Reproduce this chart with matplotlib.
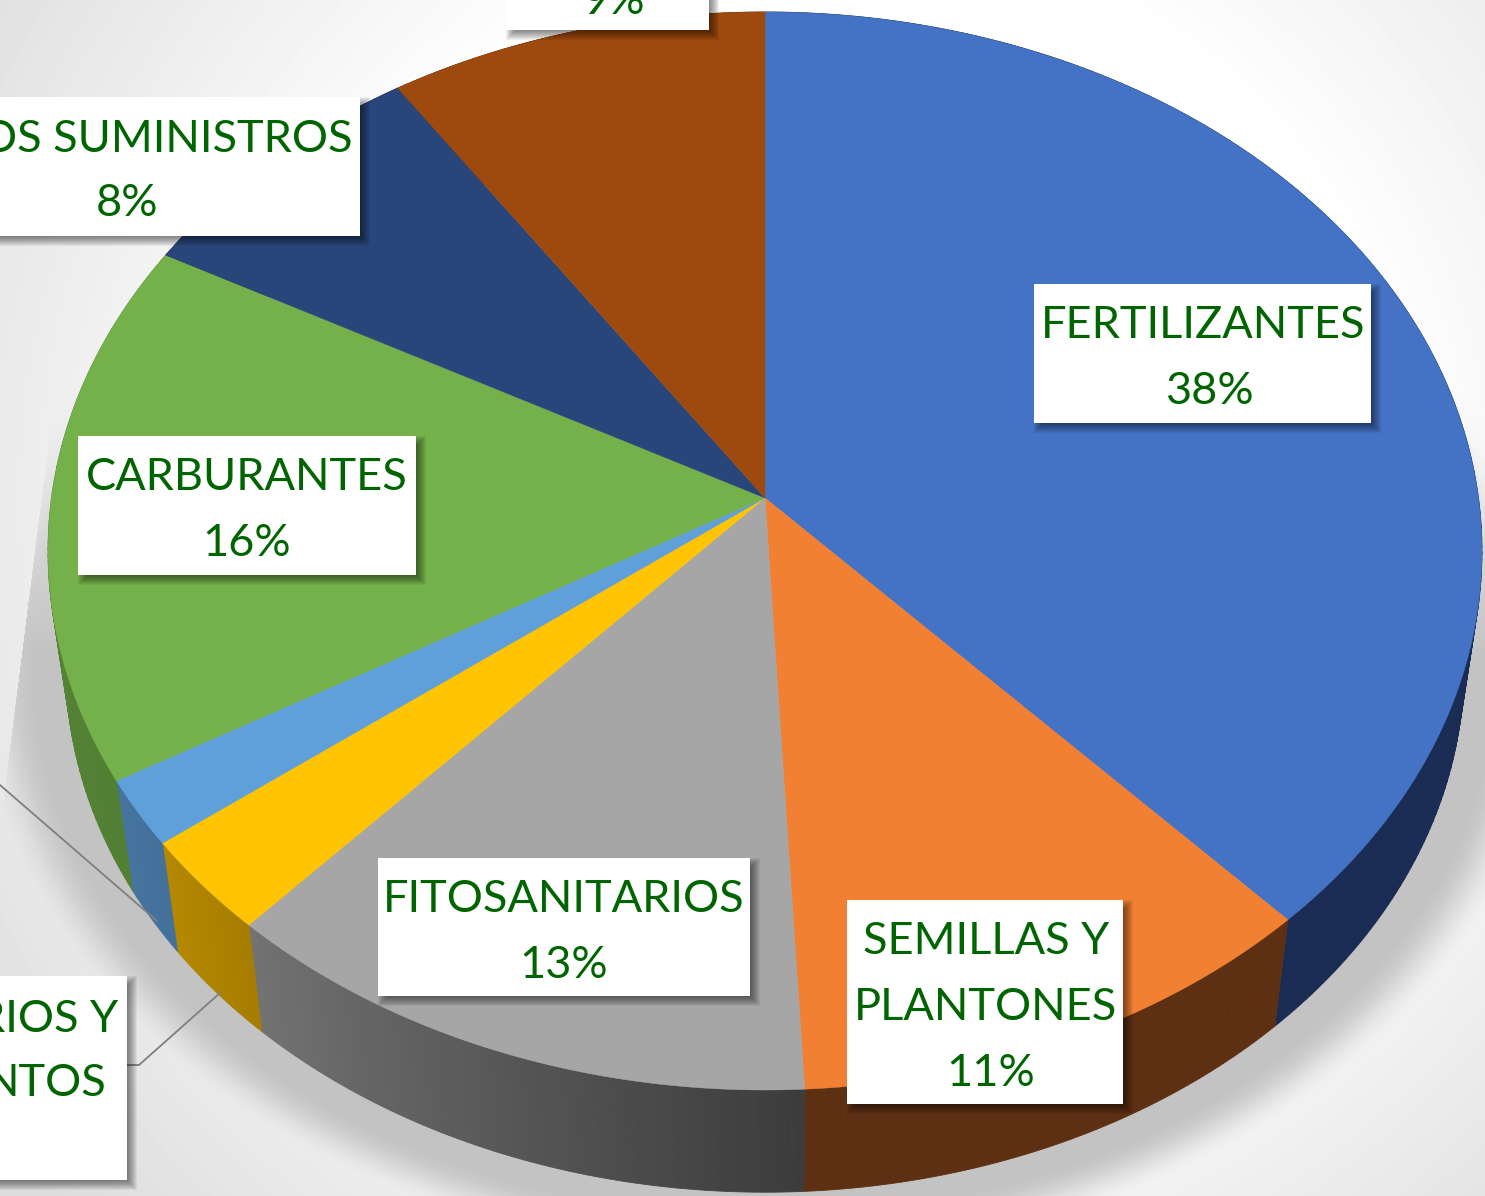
import numpy as np
import matplotlib
matplotlib.use("Agg")
import matplotlib.pyplot as plt
from matplotlib.patches import Rectangle

plt.rcParams['font.family'] = ['Lato', 'DejaVu Sans']

# Slice shares, clockwise from the top of the pie
shares = [38.1, 11.1, 12.5, 2.9, 2.0, 16.3, 7.7, 9.4]
top_colors = ["#4472C4", "#F28032", "#A6A6A6", "#FFC404", "#5F9FDA", "#75B14B", "#29467A", "#9E490D"]
wall_start = ["#1A2C54", "#5E3013", "#3C3C3C", "#A67D00", "#44709A", "#517F33", "#1A2C54", "#5E3013"]
wall_end = ["#1A2C54", "#5E3013", "#727272", "#B48800", "#44749F", "#5A8A3A", "#1A2C54", "#5E3013"]

# Label boxes: left, top, right, bottom
box_edges = [
    (1034, 284, 1371, 423),
    (847, 900, 1123, 1104),
    (378, 858, 750, 996),
    (78, 436, 416, 575),
    (-106, 97, 360, 236),
    (506, -110, 709, 30),
    (-300, 976, 127, 1180),
]
# Text: x, y, string, horizontal alignment
label_x = [1203, 1209, 986, 986, 991, 564, 564, 247, 247, 352, 127, 614, 118, 107]
label_y = [322, 387, 938, 1004, 1069, 896, 961, 474, 539, 135, 200, -3, 1015, 1080]
label_text = ["FERTILIZANTES", "38%", "SEMILLAS Y", "PLANTONES", "11%", "FITOSANITARIOS", "13%",
              "CARBURANTES", "16%", "OTROS SUMINISTROS", "8%", "9%", "RIOS Y", "NTOS"]
label_align = ["center"] * 9 + ["right", "center", "center", "right", "right"]

# Leader lines
leader_x = [[0, 157], [127, 139, 220]]
leader_y = [[785, 921], [1065, 1065, 993]]

# Perspective of the disc
CX, CY = 765, 498
A, B, K = 713.5, 533.8, 0.0983
WALL_SCALE, WALL_CY = 0.975, 615


def rim(theta):
    x, y = np.sin(theta), np.cos(theta)
    w = 1 + K * y
    return CX + A * x / w, CY - B * y / w


def lower(px, py):
    return CX + (px - CX) * WALL_SCALE, WALL_CY + (py - CY) * WALL_SCALE


fig = plt.figure(figsize=(14.85, 11.96), dpi=100)
ax = fig.add_axes([0, 0, 1, 1])
ax.set_xlim(0, 1485)
ax.set_ylim(1196, 0)
ax.axis("off")

# Background with the soft shadow under the pie
gx, gy = np.meshgrid(np.arange(1485) + 0.5, np.arange(1196) + 0.5)
dist = np.hypot(gx - 850, gy - 500)
bg = 1 - 0.115 * np.clip((dist - 550) / 430, 0, 1.2)
rn = np.hypot((gx - CX) / 699, (gy - 665) / 526)
fade = np.clip((1.135 - rn) / 0.09, 0, 1)
fade = fade * fade * (3 - 2 * fade)
ramp = np.clip((gy - 380) / 270, 0, 1)
edge = gx > 57 - (gy - 377) * 0.1264
shadow = fade * ramp * edge
bg = bg * (1 - shadow) + 0.768 * shadow
ax.imshow(bg, cmap="gray", vmin=0, vmax=1, extent=(0, 1485, 1196, 0), aspect="auto", zorder=0,
          interpolation="bilinear")

bounds = np.cumsum([0] + shares) / 100 * 2 * np.pi

# Side wall, cut in thin strips so the shading can run along it
for i in range(len(shares)):
    t = np.linspace(bounds[i], bounds[i + 1], max(int(shares[i] * 5), 6))
    c0 = np.array(matplotlib.colors.to_rgb(wall_start[i]))
    c1 = np.array(matplotlib.colors.to_rgb(wall_end[i]))
    for j in range(len(t) - 1):
        tt = np.linspace(t[j], t[j + 1], 4)
        px, py = rim(tt)
        qx, qy = lower(px, py)
        col = c0 + (c1 - c0) * j / max(len(t) - 2, 1)
        ax.fill(np.r_[px, qx[::-1]], np.r_[py, qy[::-1]], color=col, lw=0.6, zorder=2)

# Top of the pie
for i in range(len(shares)):
    t = np.linspace(bounds[i], bounds[i + 1], 200)
    px, py = rim(t)
    ax.fill(np.r_[CX, px], np.r_[CY, py], color=top_colors[i], lw=0.3, zorder=3)

for xs, ys in zip(leader_x, leader_y):
    ax.plot(xs, ys, color="#7F7F7F", lw=1.3, zorder=2.5)

# Label boxes with a blurred shadow
for left, top, right, bottom in box_edges:
    for grow in np.arange(-5, 6):
        ax.add_patch(Rectangle((left + 5 - grow, top + 5 - grow), right - left + 2 * grow,
                               bottom - top + 2 * grow, color="black", alpha=0.055, lw=0, zorder=4))
    ax.add_patch(Rectangle((left, top), right - left, bottom - top, color="white", lw=0, zorder=5))

for x, y, s, ha in zip(label_x, label_y, label_text, label_align):
    ax.text(x, y, s, ha=ha, va="center_baseline", fontsize=32.5, color="#006400", zorder=6)

fig.savefig("out.png", dpi=100)
